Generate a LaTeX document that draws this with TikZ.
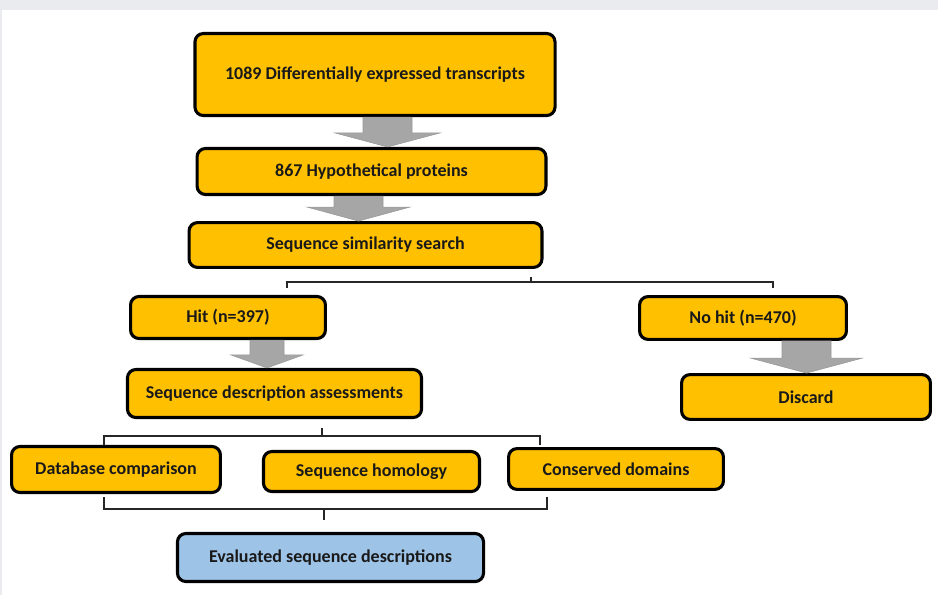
\documentclass[tikz,border=0pt]{standalone}
\usepackage{fontspec}
\setmainfont{Carlito}
\usepackage{xcolor}
\usepackage{tikz}

\definecolor{boxgold}{HTML}{FFC000}
\definecolor{boxblue}{HTML}{9DC3E6}
\definecolor{arrowgray}{HTML}{A6A6A6}
\definecolor{bandgray}{HTML}{E9EBEF}

\tikzset{
  stepbox/.style={draw=black,line width=2.2pt,rounded corners=6pt,fill=boxgold,
    font=\fontsize{12.8}{14}\selectfont\bfseries,text=black!90,align=center},
  garrow/.style={fill=arrowgray,draw=gray!80,line width=0.4pt},
  bracketline/.style={line width=1.1pt,black!85}
}

\begin{document}
\begin{tikzpicture}[x=0.025cm,y=-0.025cm]
\useasboundingbox (0,0) rectangle (938,595);
\fill[bandgray] (0,0) rectangle (938,10);
\fill[bandgray] (0,10) rectangle (2,595);

% Main chain
\node[stepbox,minimum width=9.0cm,minimum height=2.05cm] (tr) at (375,74.5) {1089 Differentially expressed transcripts};
\node[stepbox,minimum width=8.72cm,minimum height=1.15cm] (hp) at (371.5,171.5) {867 Hypothetical proteins};
\node[stepbox,minimum width=8.82cm,minimum height=1.12cm] (sss) at (365.5,245) {Sequence similarity search};

% Hit / no hit
\node[stepbox,minimum width=4.87cm,minimum height=1.05cm] (hit) at (228,317.5) {Hit (n=397)};
\node[stepbox,minimum width=5.17cm,minimum height=1.07cm] (nohit) at (743,318) {No hit (n=470)};
\node[stepbox,minimum width=7.35cm,minimum height=1.2cm] (sda) at (274.5,393.5) {Sequence description assessments};
\node[stepbox,minimum width=6.22cm,minimum height=1.12cm] (disc) at (806,397) {Discard};

% Assessments
\node[stepbox,minimum width=5.22cm,minimum height=1.15cm] (dbc) at (116,469.5) {Database comparison};
\node[stepbox,minimum width=5.4cm,minimum height=1.0cm] (hom) at (371.5,471.5) {Sequence homology};
\node[stepbox,minimum width=5.37cm,minimum height=1.02cm] (cons) at (616,469) {Conserved domains};
\node[stepbox,fill=boxblue,minimum width=7.65cm,minimum height=1.2cm] (eval) at (330.5,557.5) {Evaluated sequence descriptions};

% Block arrows
\foreach \a/\b/\cx/\sw/\hw/\hl in {tr/hp/387.5/24.5/52.5/14, hp/sss/358.5/24.5/51.5/14, hit/sda/267/17/36/13, nohit/disc/806.5/24.5/56/15}
  \draw[garrow] ({\cx-\sw},0 |- \a.south) -- ({\cx+\sw},0 |- \a.south)
    -- ([yshift=\hl*0.025cm]{\cx+\sw},0 |- \b.north) -- ([yshift=\hl*0.025cm]{\cx+\hw},0 |- \b.north)
    -- (\cx,0 |- \b.north)
    -- ([yshift=\hl*0.025cm]{\cx-\hw},0 |- \b.north) -- ([yshift=\hl*0.025cm]{\cx-\sw},0 |- \b.north) -- cycle;

% Brackets
\draw[bracketline] (287,288) -- (287,282) -- (773,282) -- (773,288);
\draw[bracketline] (531,277) -- (531,282);
\draw[bracketline] (104,445) -- (104,436) -- (540,436) -- (540,445);
\draw[bracketline] (322,428) -- (322,436);
\draw[bracketline] (104,497) -- (104,509) -- (547,509) -- (547,497);
\draw[bracketline] (324,509) -- (324,520);
\end{tikzpicture}
\end{document}
